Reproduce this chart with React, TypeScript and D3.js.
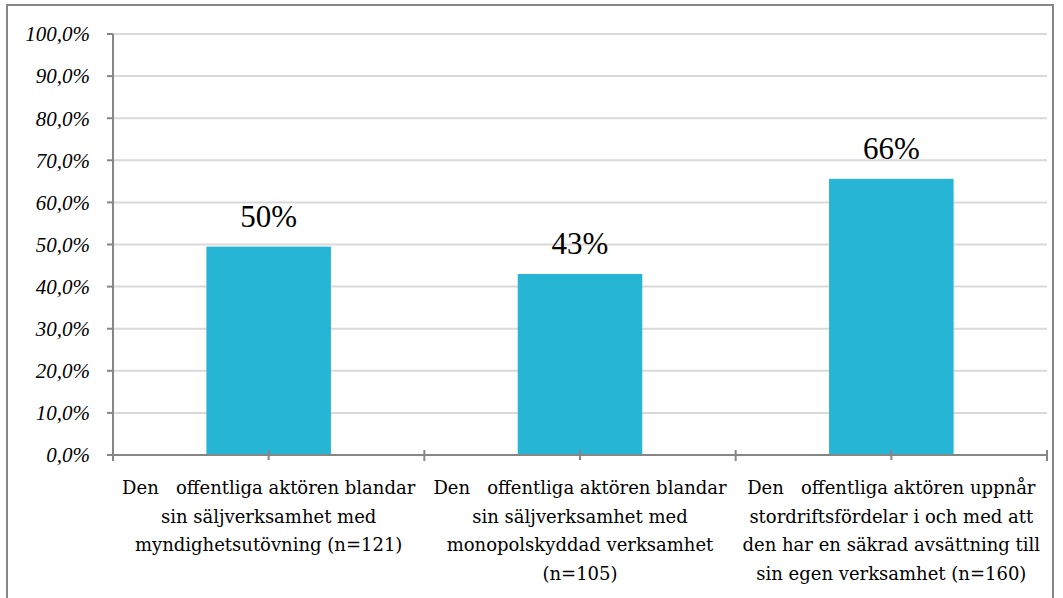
import React from "react";
import * as d3 from "d3";

const categories: string[][] = [
  ["Den\u00a0\u00a0\u00a0offentliga aktören blandar", "sin säljverksamhet med", "myndighetsutövning (n=121)"],
  ["Den\u00a0\u00a0\u00a0offentliga aktören blandar", "sin säljverksamhet med", "monopolskyddad verksamhet", "(n=105)"],
  ["Den\u00a0\u00a0\u00a0offentliga aktören uppnår", "stordriftsfördelar i och med att", "den har en säkrad avsättning till", "sin egen verksamhet (n=160)"],
];
const values: number[] = [0.495, 0.43, 0.656];
const dataLabels: string[] = ["50%", "43%", "66%"];
const yTicks: number[] = [0, 0.1, 0.2, 0.3, 0.4, 0.5, 0.6, 0.7, 0.8, 0.9, 1.0];

const W = 1063;
const H = 598;
const left = 113;
const right = 1047;
const top = 34;
const bottom = 455;
const CAT_FONT = "DejaVu Serif";
const LBL_FONT = "Liberation Serif";

export default function App() {
  const x = d3
    .scaleBand<number>()
    .domain(d3.range(values.length))
    .range([left, right])
    .paddingInner(0.6)
    .paddingOuter(0.3);
  const y = d3.scaleLinear().domain([0, 1]).range([bottom, top]);
  const step = x.step();
  const fmt = (v: number) => d3.format(".1f")(v * 100).replace(".", ",") + "%";
  const axisColor = "#868686";
  const boundaries = d3.range(values.length + 1).map((i) => left + i * step);
  const centers = d3.range(values.length).map((i) => left + (i + 0.5) * step);

  return (
    <svg
      width={W}
      height={H}
      style={{ position: "absolute", left: 0, top: 0, background: "#fff" }}
    >
      <rect x={7} y={5} width={1046} height={620} fill="#fff" stroke={axisColor} strokeWidth={2} />
      {yTicks.map((t) => (
        <g key={t}>
          {t > 0 && (
            <line x1={left} x2={right} y1={y(t)} y2={y(t)} stroke="#d9d9d9" strokeWidth={2} />
          )}
          <line x1={left - 6} x2={left} y1={y(t)} y2={y(t)} stroke={axisColor} strokeWidth={2} />
          <text
            x={90}
            y={y(t)}
            dy="0.35em"
            textAnchor="end"
            fontFamily={LBL_FONT}
            fontStyle="italic"
            fontSize={21}
            fill="#000"
          >
            {fmt(t)}
          </text>
        </g>
      ))}
      {values.map((v, i) => (
        <g key={i}>
          <rect x={x(i)} y={y(v)} width={x.bandwidth()} height={bottom - y(v)} fill="#26b5d4" />
          <text
            x={(x(i) as number) + x.bandwidth() / 2}
            y={y(v) - 20}
            textAnchor="middle"
            fontFamily={LBL_FONT}
            fontSize={31}
            fill="#000"
          >
            {dataLabels[i]}
          </text>
        </g>
      ))}
      <line x1={left} x2={left} y1={top} y2={bottom} stroke={axisColor} strokeWidth={2} />
      <line x1={left} x2={right} y1={bottom} y2={bottom} stroke={axisColor} strokeWidth={2} />
      {boundaries.map((b, i) => (
        <line key={"b" + i} x1={b} x2={b} y1={i === 0 ? bottom : bottom - 5} y2={bottom + 6} stroke={axisColor} strokeWidth={2} />
      ))}
      {centers.map((c, i) => (
        <line key={"c" + i} x1={c} x2={c} y1={bottom - 5} y2={bottom + 5} stroke={axisColor} strokeWidth={2} />
      ))}
      {categories.map((lines, i) => (
        <text
          key={"cat" + i}
          textAnchor="middle"
          fontFamily={CAT_FONT}
          fontSize={18}
          fill="#000"
        >
          {lines.map((ln, j) => (
            <tspan key={j} x={centers[i]} y={494 + j * 28.5}>
              {ln}
            </tspan>
          ))}
        </text>
      ))}
    </svg>
  );
}
